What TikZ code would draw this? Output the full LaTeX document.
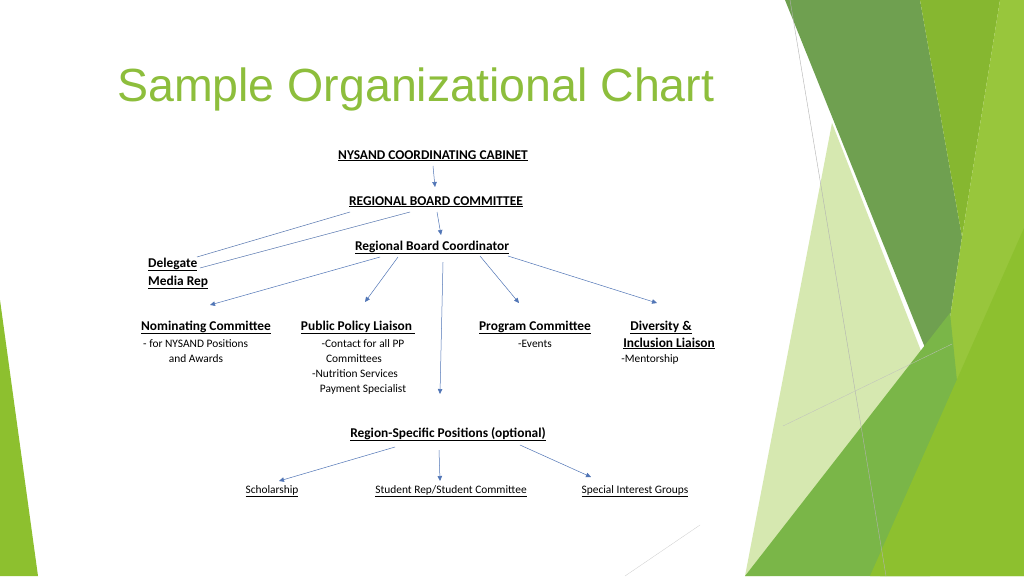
\documentclass[tikz,border=0pt]{standalone}
\usepackage{fontspec}
\setmainfont{Carlito}
\newfontfamily\titlefont{Liberation Sans}
\usetikzlibrary{positioning,arrows.meta}

\definecolor{titlegreen}{HTML}{8DBE3C}
\definecolor{linkblue}{HTML}{4472C4}
\definecolor{paleband}{RGB}{214,232,176}
\definecolor{darkband}{RGB}{111,160,80}
\definecolor{oliveband}{RGB}{134,183,48}
\definecolor{lightband}{RGB}{152,198,60}
\definecolor{midband}{RGB}{122,182,72}
\definecolor{brightband}{RGB}{141,192,47}

\tikzset{
  head/.style={font=\bfseries\fontsize{13.4}{15}\selectfont, inner sep=0pt, anchor=base},
  sub/.style={font=\fontsize{11.4}{13}\selectfont, inner sep=0pt, anchor=base},
  link/.style={draw=linkblue!80!gray, line width=0.5pt, -{Triangle[length=5pt,width=4.5pt]}},
  plain/.style={draw=linkblue!70!gray, line width=0.5pt},
}
\newcommand{\ul}[1]{\underline{#1}}

\begin{document}
\begin{tikzpicture}[x=1pt,y=-1pt]
        \useasboundingbox (0,0) rectangle (1024,576);
        \fill[white] (0,0) rectangle (1024,576);
        % background bands
        \fill[paleband] (832,123) -- (948,420) -- (770,576) -- (745,576) -- cycle;
        \fill[darkband] (785,0) -- (920,0) -- (962,237) -- (940,385) -- cycle;
        \fill[oliveband] (920,0) -- (1000,0) -- (962,237) -- cycle;
        \fill[lightband] (1000,0) -- (1024,0) -- (1024,576) -- (880,576) -- (940,385) -- (962,237) -- cycle;
        \fill[midband] (745,576) -- (950,313) -- (962,430) -- (930,576) -- cycle;
        \fill[brightband] (870,576) -- (1024,228) -- (1024,576) -- cycle;
        \fill[brightband] (0,300) -- (38,576) -- (0,576) -- cycle;
        \draw[gray!60, line width=0.4pt] (790,0) -- (886,576);
        \draw[gray!50, line width=0.3pt] (783,426) -- (952,344);
        \draw[gray!40, line width=0.3pt] (625,576) -- (700,525);
        % title
        \node[font=\titlefont\fontsize{46.5}{50}\selectfont, text=titlegreen, anchor=base west, inner sep=0pt] (title) at (117,101) {Sample Organizational Chart};
        % chart
        \node[head] (cabinet) at (433,159) {\ul{NYSAND COORDINATING CABINET}};
        \node[head] (board) at (436,205) {\ul{REGIONAL BOARD COMMITTEE}};
        \node[head] (coord) at (432,250) {\ul{Regional Board Coordinator}};
        \node[head, anchor=base west] (delegate) at (148,267) {\ul{Delegate}};
        \node[head, anchor=base west] (media) at (148,285) {\ul{Media Rep}};
        \node[head] (nominate) at (206,330) {\ul{Nominating Committee}};
        \node[sub, anchor=base west] (nomA) at (143,347) {- for NYSAND Positions};
        \node[sub] (nomB) at (196,362) {and Awards};
        \node[head] (policy) at (358,330) {\ul{Public Policy Liaison\ }};
        \node[sub] (polA) at (363,347) {-Contact for all PP};
        \node[sub] (polB) at (354,362) {Committees};
        \node[sub] (polC) at (355,377) {-Nutrition Services};
        \node[sub] (polD) at (363,392) {Payment Specialist};
        \node[head] (program) at (535,330) {\ul{Program Committee}};
        \node[sub] (progA) at (535,347) {-Events};
        \node[head] (divA) at (661,330) {\ul{Diversity \&}};
        \node[head] (divB) at (669,347) {\ul{Inclusion Liaison}};
        \node[sub] (divC) at (650,362) {-Mentorship};
        \node[head] (region) at (448,437) {\ul{Region-Specific Positions (optional)}};
        \node[sub] (scholar) at (272,493) {\ul{Scholarship}};
        \node[sub] (student) at (451,493) {\ul{Student Rep/Student Committee}};
        \node[sub] (special) at (635,493) {\ul{Special Interest Groups}};
        % connectors
        \coordinate (dA) at (197,257);
        \coordinate (dB) at (200,268);
        \coordinate (tA) at (350,212);
        \coordinate (tB) at (410,212);
        \path[plain] (dA) -- (tA);
        \path[plain] (dB) -- (tB);
        \coordinate (kA) at (433,166);
        \coordinate (kB) at (437,212);
        \path[link] (kA) -- (435,187);
        \path[link] (kB) -- (441,235);
        \coordinate (cA) at (380,257);
        \coordinate (cB) at (398,257);
        \coordinate (cC) at (443,262);
        \coordinate (cD) at (480,256);
        \coordinate (cE) at (508,256);
        \path[link] (cA) -- (210,305);
        \path[link] (cB) -- (365,302);
        \path[link] (cC) -- (440,394);
        \path[link] (cD) -- (519,303);
        \path[link] (cE) -- (657,303);
        \coordinate (rA) at (395,447);
        \coordinate (rB) at (439,450);
        \coordinate (rC) at (520,445);
        \path[link] (rA) -- (279,481);
        \path[link] (rB) -- (440,481);
        \path[link] (rC) -- (591,477);
    \end{tikzpicture}
\end{document}
